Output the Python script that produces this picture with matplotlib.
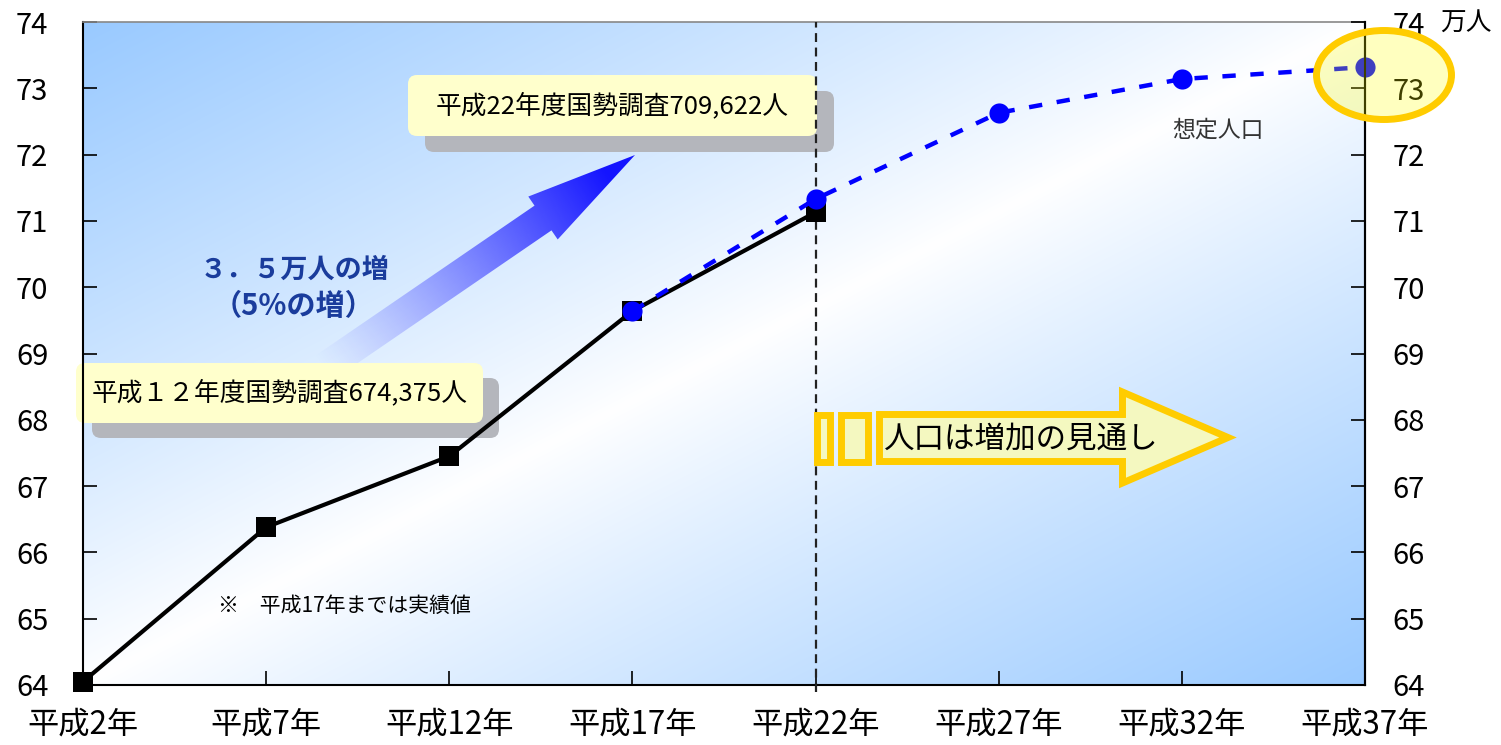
import numpy as np
import matplotlib
matplotlib.use('Agg')
import matplotlib.pyplot as plt
from matplotlib.patches import Polygon, FancyBboxPatch, Ellipse
from matplotlib.transforms import Affine2D

# ---- data ----
years = ['平成2年', '平成7年', '平成12年', '平成17年', '平成22年', '平成27年', '平成32年', '平成37年']
actual_values = [64.05, 66.38, 67.45, 69.64, 71.13]          # 平成2〜22年 (実績)
projected_values = [69.64, 71.33, 72.63, 73.14, 73.32]       # 平成17〜37年 (想定人口)
y_ticks = list(range(64, 75))

plt.rcParams['font.family'] = ['Noto Sans CJK JP', 'DejaVu Sans']

W, H = 1501, 745
fig = plt.figure(figsize=(W / 100, H / 100), dpi=100)
L, R, TOP, BOT = 83, 1365, 22, 685
ax = fig.add_axes([L / W, (H - BOT) / H, (R - L) / W, (BOT - TOP) / H])
xs = np.arange(len(years))
ax.set_xlim(xs[0], xs[-1])
ax.set_ylim(y_ticks[0], y_ticks[-1])

# reference-pixel transform (y downward) for decorations
PX = Affine2D().scale(1 / W, -1 / H).translate(0, 1) + fig.transFigure


def to_data(px, py):
    x0, x1 = ax.get_xlim()
    y0, y1 = ax.get_ylim()
    return x0 + (px - L) / (R - L) * (x1 - x0), y1 - (py - TOP) / (BOT - TOP) * (y1 - y0)


# ---- background gradient ----
gh, gw = 400, 800
u = np.linspace(0, 1, gw)[None, :]
v = np.linspace(0, 1, gh)[:, None]
d = np.abs(u + v - 1)
blue = np.array([0.60, 0.79, 1.0])
m = (d ** 0.9)[..., None]
bg = (1 - m) * np.ones(3) + m * blue
ax.imshow(bg, extent=(xs[0], xs[-1], y_ticks[0], y_ticks[-1]), origin='upper',
          aspect='auto', zorder=0, interpolation='bilinear')

# ---- big gradient arrow ----
tail = np.array([321., 370.])
base = np.array([543., 218.])
tip = np.array([635., 155.])
dv = (tip - base) / np.linalg.norm(tip - base)
nv = np.array([-dv[1], dv[0]])
sw, hw = 15, 26
pts = [tail - sw * nv, base - sw * nv, base - hw * nv, tip, base + hw * nv, base + sw * nv, tail + sw * nv]
clip_poly = Polygon(pts, closed=True, transform=PX)
pxmin, pxmax, pymin, pymax = 290, 660, 130, 400
aw, ah = 400, 300
gx = np.linspace(pxmin, pxmax, aw)[None, :]
gy = np.linspace(pymin, pymax, ah)[:, None]
s = ((gx - tail[0]) * dv[0] + (gy - tail[1]) * dv[1]) / np.linalg.norm(tip - tail)
alpha = np.clip(s * 1.1, 0, 1) ** 1.2
rgba = np.zeros((ah, aw, 4))
rgba[..., 0] = 0.08
rgba[..., 1] = 0.08
rgba[..., 2] = 1.0
rgba[..., 3] = alpha
x0d, ytd = to_data(pxmin, pymin)
x1d, ybd = to_data(pxmax, pymax)
im = ax.imshow(rgba, extent=(x0d, x1d, ybd, ytd), origin='upper', aspect='auto',
               zorder=1.5, interpolation='bilinear')
im.set_clip_path(clip_poly)
ax.set_xlim(xs[0], xs[-1])
ax.set_ylim(y_ticks[0], y_ticks[-1])


# ---- callouts ----
def callout(x0, y0, x1, y1, dx, dy, text):
    ax.add_patch(FancyBboxPatch((x0 + dx, y0 + dy), x1 - x0, y1 - y0,
                                boxstyle='round,pad=0,rounding_size=9', transform=PX,
                                fc='#B4B6BC', ec='none', zorder=2, clip_on=False))
    ax.add_patch(FancyBboxPatch((x0, y0), x1 - x0, y1 - y0,
                                boxstyle='round,pad=0,rounding_size=9', transform=PX,
                                fc='#FFFFCC', ec='none', zorder=2.1, clip_on=False))
    ax.text((x0 + x1) / 2, (y0 + y1) / 2, text, transform=PX, ha='center', va='center',
            fontsize=18.5, color='black', zorder=2.2)


callout(408, 75, 817, 136, 17, 16, '平成22年度国勢調査709,622人')
callout(76, 363, 483, 423, 16, 15, '平成１２年度国勢調査674,375人')

# ---- data lines ----
ax.axvline(xs[4], ymin=-7 / 663, ymax=1, clip_on=False, color='#222222', lw=1.6,
           ls=(0, (4, 2.5)), zorder=3)
ax.plot(xs[:len(actual_values)], actual_values, color='black', lw=3, marker='s', ms=15,
        mew=0, zorder=4, clip_on=False)
ax.plot(xs[3:3 + len(projected_values)], projected_values, color='#0000FF', lw=3.2,
        ls=(0, (3, 3.3)), marker='o', ms=14.5, mew=0, zorder=5, clip_on=False)

# ---- texts ----
ax.text(295, 270, '３．５万人の増', transform=PX, ha='center', va='center', fontsize=19.5,
        fontweight='bold', color='#1A3C9C', zorder=6)
ax.text(294, 306, '（5%の増）', transform=PX, ha='center', va='center', fontsize=21,
        fontweight='bold', color='#1A3C9C', zorder=6)
ax.text(218, 606, '※　平成17年までは実績値', transform=PX, ha='left', va='center',
        fontsize=15, color='black', zorder=6)
ax.text(1172, 130, '想定人口', transform=PX, ha='left', va='center', fontsize=16.5,
        color='#333333', zorder=6)

# ---- yellow hollow arrow ----
ylw = dict(transform=PX, fc='#F4F8C0', ec='#FFCC00', lw=5, joinstyle='miter', zorder=6,
           clip_on=False)
ax.add_patch(Polygon([(816.5, 414.5), (829.5, 414.5), (829.5, 461.5), (816.5, 461.5)], **ylw))
ax.add_patch(Polygon([(840.5, 414.5), (867.5, 414.5), (867.5, 461.5), (840.5, 461.5)], **ylw))
ax.add_patch(Polygon([(879.5, 414.5), (1122.5, 414.5), (1122.5, 392), (1228, 437.5),
                      (1122.5, 483), (1122.5, 461.5), (879.5, 461.5)], **ylw))
ax.text(884, 439, '人口は増加の見通し', transform=PX, ha='left', va='center', fontsize=22,
        color='black', zorder=7)

# ---- axes styling ----
ax.set_xticks(xs)
ax.set_xticklabels(years)
ax.set_yticks(y_ticks)
ax.set_yticklabels([str(t) for t in y_ticks])
ax.tick_params(axis='y', direction='in', length=10, width=1.2, labelsize=21, pad=25)
ax.tick_params(axis='x', direction='in', length=10, width=1.2, labelsize=22.5, pad=17)
ax.spines['top'].set_color('#888888')
ax.spines['top'].set_linewidth(1.2)
for sp in ['left', 'bottom', 'right']:
    ax.spines[sp].set_color('black')
    ax.spines[sp].set_linewidth(1.5)

ax2 = ax.twinx()
ax2.set_ylim(y_ticks[0], y_ticks[-1])
ax2.set_yticks(y_ticks)
ax2.set_yticklabels([str(t) for t in y_ticks])
ax2.tick_params(axis='y', direction='in', length=10, width=1.2, labelsize=21, pad=20)
for sp in ['top', 'left', 'bottom']:
    ax2.spines[sp].set_visible(False)
ax2.spines['right'].set_linewidth(1.5)
ax2.text(1440, 24, '万人', transform=PX, ha='left', va='center', fontsize=18.5, color='black')

ax2.add_patch(Ellipse((1384, 75), 135, 89, transform=PX, fc=(1, 1, 0, 0.25), ec='#FFCC00',
                      lw=5, zorder=10, clip_on=False))

fig.savefig('out.png', dpi=100)
